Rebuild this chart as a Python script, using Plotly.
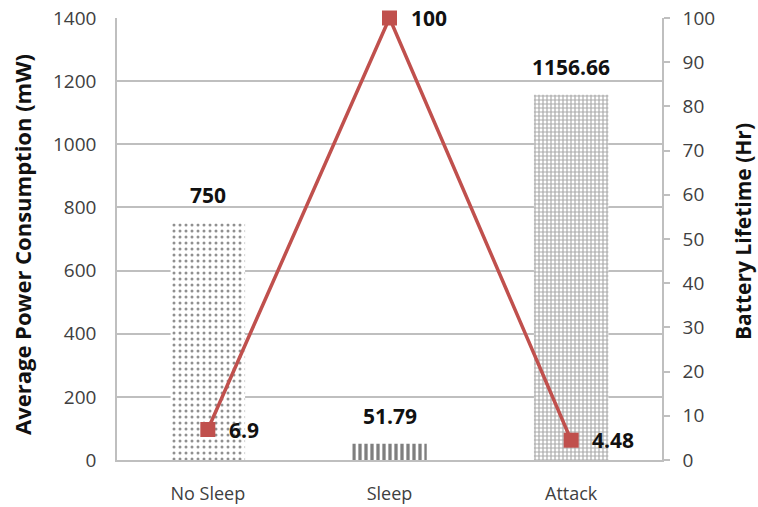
import plotly.graph_objects as go

categories = ["No Sleep", "Sleep", "Attack"]
power_mw = [750, 51.79, 1156.66]
power_labels = ["750", "51.79", "1156.66"]
lifetime_hr = [6.9, 100, 4.48]
lifetime_labels = ["6.9", "100", "4.48"]

FONT = "Open Sans"
GRID = "#bfbfbf"
RED = "#c0504d"
TICK = "#404040"
DARK = "#111111"

patterns = [
    dict(shape=".", size=6, solidity=0.2, fgcolor="#222222", bgcolor="white"),
    dict(shape="|", size=6, solidity=0.55, fgcolor="#000000", bgcolor="white"),
    dict(shape="+", size=4, solidity=0.5, fgcolor="#555555", bgcolor="white"),
]

fig = go.Figure()

for cat, val, pat in zip(categories, power_mw, patterns):
    fig.add_trace(go.Bar(
        x=[cat], y=[val], width=0.41,
        marker=dict(color="white", line=dict(width=0), pattern=pat),
        showlegend=False, hoverinfo="skip",
    ))

fig.add_trace(go.Scatter(
    x=categories, y=lifetime_hr, yaxis="y2", mode="lines+markers",
    line=dict(color=RED, width=3.5),
    marker=dict(symbol="square", size=15, color=RED),
    showlegend=False, cliponaxis=False,
))

annotations = []
for cat, val, lab in zip(categories, power_mw, power_labels):
    annotations.append(dict(
        x=cat, y=val, xref="x", yref="y", text=f"<b>{lab}</b>",
        showarrow=False, yanchor="bottom", yshift=12,
        font=dict(family=FONT, size=21, color=DARK),
    ))
for cat, val, lab in zip(categories, lifetime_hr, lifetime_labels):
    annotations.append(dict(
        x=cat, y=val, xref="x", yref="y2", text=f"<b>{lab}</b>",
        showarrow=False, xanchor="left", xshift=19,
        font=dict(family=FONT, size=21, color=DARK),
    ))

# axis titles
annotations.append(dict(
    x=0, y=0.5, xref="paper", yref="paper", xanchor="center", yanchor="middle",
    xshift=-95, yshift=-6, textangle=-90, showarrow=False,
    text="<b>Average Power Consumption (mW)</b>",
    font=dict(family=FONT, size=22, color=DARK),
))
annotations.append(dict(
    x=1, y=0.5, xref="paper", yref="paper", xanchor="center", yanchor="middle",
    xshift=81, yshift=7, textangle=-90, showarrow=False,
    text="<b>Battery Lifetime (Hr)</b>",
    font=dict(family=FONT, size=21, color=DARK),
))

fig.update_layout(
    width=758, height=507,
    margin=dict(l=117, r=96, t=18, b=47, autoexpand=False),
    paper_bgcolor="white", plot_bgcolor="white",
    barmode="overlay",
    font=dict(family=FONT, size=16, color=TICK),
    xaxis=dict(
        categoryorder="array", categoryarray=categories,
        showline=True, linecolor=GRID, linewidth=1.5,
        ticks="", showgrid=False, automargin=False,
        tickfont=dict(size=18, color=TICK), ticklabelstandoff=17,
    ),
    yaxis=dict(
        range=[0, 1400], dtick=200, showgrid=True, gridcolor=GRID, gridwidth=1.5,
        showline=True, linecolor=GRID, linewidth=1.5, ticks="",
        zeroline=False, automargin=False,
        tickfont=dict(size=19, color=TICK), ticklabelstandoff=15,
    ),
    yaxis2=dict(
        range=[0, 100], dtick=10, overlaying="y", side="right",
        showgrid=False, showline=True, linecolor=GRID, linewidth=1.5,
        ticks="outside", ticklen=6, tickcolor=GRID, tickwidth=1.5,
        zeroline=False, automargin=False,
        tickfont=dict(size=19, color=TICK), ticklabelstandoff=9,
    ),
    annotations=annotations,
)

fig.write_html("out.html")
